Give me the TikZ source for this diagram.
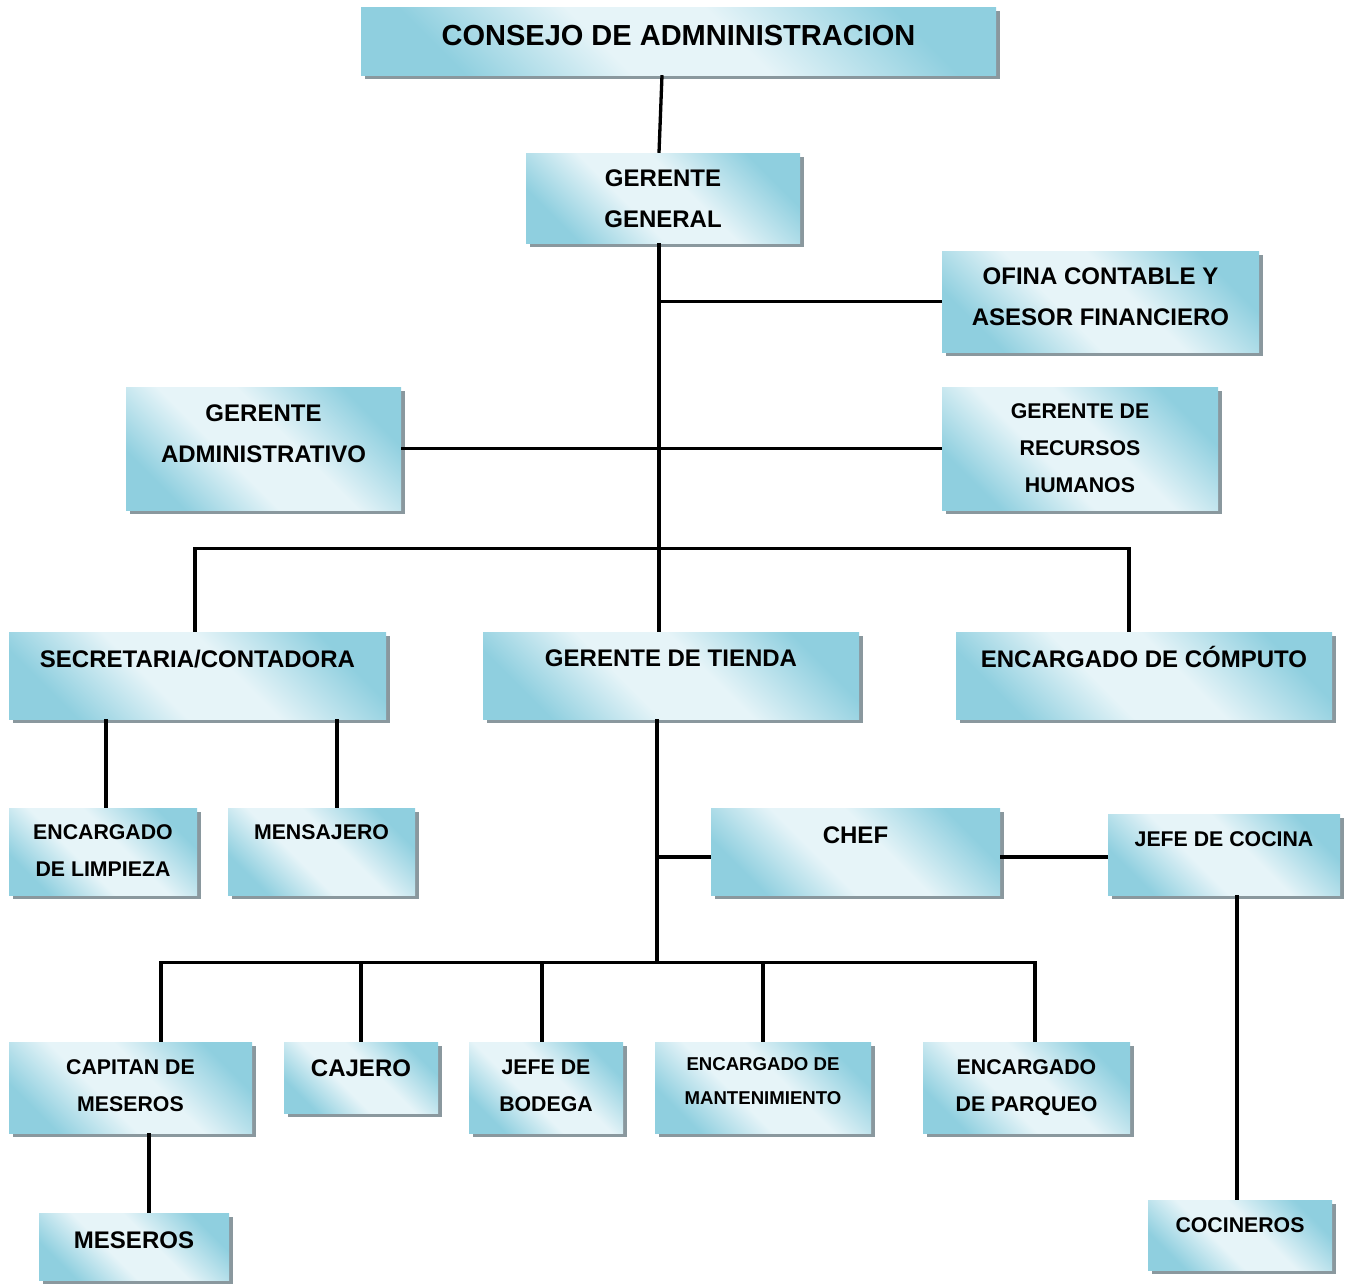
\documentclass[tikz,border=0pt]{standalone}
\usepackage{fontspec}
\setmainfont{Liberation Sans}
\usetikzlibrary{shadows}

\definecolor{boxblue}{RGB}{143,207,223}
\definecolor{boxlight}{RGB}{230,244,248}
\definecolor{boxshadow}{RGB}{138,152,158}
\pgfdeclareverticalshading{boxshade}{100bp}{color(0bp)=(boxblue); color(25bp)=(boxblue);
    color(42bp)=(boxlight); color(56bp)=(boxlight); color(75bp)=(boxblue); color(100bp)=(boxblue)}

\begin{document}
\begin{tikzpicture}[
    x=1pt, y=-1pt,
    conn/.style={line width=3.3pt, black},
    box/.style={rectangle, shading=boxshade, shading angle=-45, align=center, inner sep=2pt,
        drop shadow={shadow xshift=4pt, shadow yshift=-4pt, fill=boxshadow, opacity=1}},
    titletxt/.style={font=\bfseries\fontsize{29}{34}\selectfont, text height=21pt},
    bigtxt/.style={font=\bfseries\fontsize{24}{41}\selectfont, text height=17pt},
    midtxt/.style={font=\bfseries\fontsize{21.3}{37}\selectfont, text height=15pt},
    smalltxt/.style={font=\bfseries\fontsize{18.6}{34}\selectfont, text height=13.5pt}
]
\useasboundingbox (0,0) rectangle (1347,1283);

% Direction
\node[box, titletxt, minimum width=635pt, minimum height=68pt, text depth=12pt] (consejo) at (678.5,41) {CONSEJO DE ADMNINISTRACION};
\node[box, bigtxt, minimum width=274pt, minimum height=90pt, text height=59pt, text depth=0pt] (gg) at (663,198) {GERENTE\\GENERAL};
\node[box, bigtxt, minimum width=317pt, minimum height=101pt, text height=48pt, text depth=0pt] (ofina) at (1100.5,301.5) {OFINA CONTABLE Y\\ASESOR FINANCIERO};
\node[box, bigtxt, minimum width=275pt, minimum height=123pt, text height=28pt, text depth=0pt] (gadm) at (263.5,448.5) {GERENTE\\ADMINISTRATIVO};
\node[box, midtxt, minimum width=276pt, minimum height=123pt, text height=88pt, text depth=0pt] (rrhh) at (1080,448.5) {GERENTE DE\\RECURSOS\\HUMANOS};

% Second level
\node[box, bigtxt, minimum width=377pt, minimum height=87pt, text depth=33pt] (sec) at (197.5,675.5) {SECRETARIA/CONTADORA};
\node[box, bigtxt, minimum width=376pt, minimum height=87pt, text depth=35pt] (tienda) at (671,675.5) {GERENTE DE TIENDA};
\node[box, bigtxt, minimum width=376pt, minimum height=87pt, text depth=33pt] (comp) at (1144,675.5) {ENCARGADO DE CÓMPUTO};

% Third level
\node[box, midtxt, minimum width=188pt, minimum height=87pt, text height=50pt, text depth=0pt] (limp) at (103,851.5) {ENCARGADO\\DE LIMPIEZA};
\node[box, midtxt, minimum width=187pt, minimum height=87pt, text depth=39pt] (mens) at (321.5,851.5) {MENSAJERO};
\node[box, bigtxt, minimum width=289pt, minimum height=87pt, text depth=33pt] (chef) at (855.5,851.5) {CHEF};
\node[box, midtxt, minimum width=232pt, minimum height=81pt, text depth=31pt] (jcoc) at (1224,854.5) {JEFE DE COCINA};

% Store staff
\node[box, midtxt, minimum width=243pt, minimum height=91pt, text height=48pt, text depth=0pt] (cap) at (130.5,1087.5) {CAPITAN DE\\MESEROS};
\node[box, bigtxt, minimum width=154pt, minimum height=71pt, text depth=19pt] (caj) at (361,1077.5) {CAJERO};
\node[box, midtxt, minimum width=154pt, minimum height=91pt, text height=48pt, text depth=0pt] (bod) at (546,1087.5) {JEFE DE\\BODEGA};
\node[box, smalltxt, minimum width=216pt, minimum height=91pt, text height=34.5pt, text depth=0pt] (mant) at (763,1087.5) {ENCARGADO DE\\MANTENIMIENTO};
\node[box, midtxt, minimum width=207pt, minimum height=91pt, text height=48pt, text depth=0pt] (parq) at (1026.5,1087.5) {ENCARGADO\\DE PARQUEO};
\node[box, bigtxt, minimum width=190pt, minimum height=67pt, text depth=13pt] (mes) at (134,1246.5) {MESEROS};
\node[box, midtxt, minimum width=184pt, minimum height=70pt, text depth=20pt] (coci) at (1240,1235) {COCINEROS};

% Trunk coordinates
\coordinate (c0) at (662,0);
\coordinate (tk) at (659,0);
\coordinate (t0) at (657,963);

% Connections
\draw[conn] (consejo.south -| c0) -- (gg.north -| tk);
\draw[conn] (gg.south -| tk) -- (tienda.north -| tk);
\draw[conn] (ofina.west) -- (ofina.west -| tk);
\draw[conn] (gadm.east) -- (rrhh.west);
\draw[conn] ([xshift=-2.5pt]sec.north) -- ++(0,-83) -| ([xshift=-15pt]comp.north);
\draw[conn] ([xshift=3pt]limp.north) -- ([xshift=3pt]limp.north |- sec.south);
\draw[conn] ([xshift=15.5pt]mens.north) -- ([xshift=15.5pt]mens.north |- sec.south);
\draw[conn] (tienda.south -| t0) -- (t0);
\draw[conn] ([yshift=-5.5pt]chef.west) -- ([yshift=-5.5pt]chef.west -| t0);
\draw[conn] ([yshift=-5.5pt]chef.east) -- ([yshift=-5.5pt]chef.east -| jcoc.west);
\draw[conn] ([xshift=30.5pt]cap.north) -- ++(0,-79) -| ([xshift=8.5pt]parq.north);
\draw[conn] (caj.north) -- (caj.north |- t0);
\draw[conn] ([xshift=-4pt]bod.north) -- ([xshift=-4pt]bod.north |- t0);
\draw[conn] (mant.north) -- (mant.north |- t0);
\draw[conn] ([xshift=18.5pt]cap.south) -- ([xshift=15pt]mes.north);
\draw[conn] ([xshift=13pt]jcoc.south) -- ([xshift=-3pt]coci.north);

\end{tikzpicture}
\end{document}
